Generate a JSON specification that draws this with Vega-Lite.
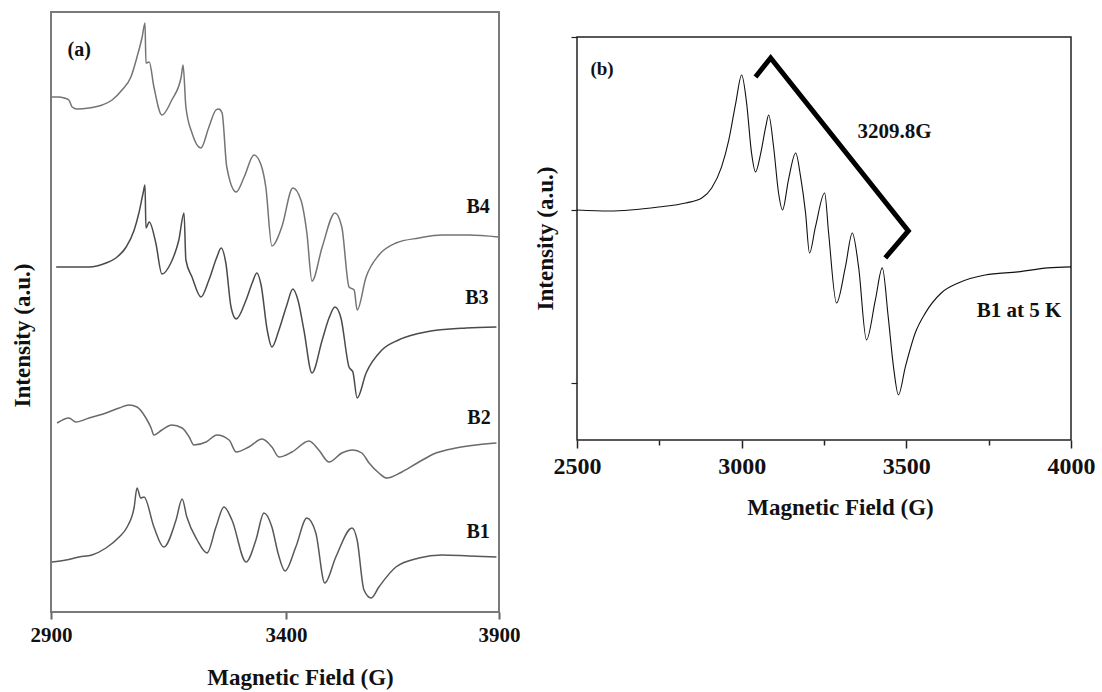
{
  "$schema": "https://vega.github.io/schema/vega-lite/v6.json",
  "background": "white",
  "padding": {"left": 10, "top": 11, "right": 5, "bottom": 0},
  "spacing": 13,
  "config": {
    "font": "Liberation Serif",
    "view": {"stroke": null},
    "axis": {"grid": false, "labelFont": "Liberation Serif", "titleFont": "Liberation Serif", "labelFontWeight": "bold", "titleFontWeight": "bold", "labelColor": "#111", "titleColor": "#111", "labelFlush": false, "labelOverlap": false, "labelBound": false},
    "text": {"font": "Liberation Serif", "fontWeight": "bold", "color": "#111"}
  },
  "datasets": {
    "a": [
      {"sample":"B4","G":2902,"I":515},{"sample":"B4","G":2917,"I":515},{"sample":"B4","G":2928,"I":514},{"sample":"B4","G":2938,"I":512},{"sample":"B4","G":2945,"I":505},{"sample":"B4","G":2955,"I":503},{"sample":"B4","G":2981,"I":504},{"sample":"B4","G":3009,"I":507},{"sample":"B4","G":3030,"I":512},{"sample":"B4","G":3051,"I":522},{"sample":"B4","G":3070,"I":535},{"sample":"B4","G":3083,"I":555},{"sample":"B4","G":3094,"I":575},{"sample":"B4","G":3100,"I":589},{"sample":"B4","G":3102,"I":549},{"sample":"B4","G":3109,"I":550},{"sample":"B4","G":3119,"I":525},{"sample":"B4","G":3136,"I":497},{"sample":"B4","G":3157,"I":512},{"sample":"B4","G":3177,"I":535},{"sample":"B4","G":3181,"I":547},{"sample":"B4","G":3187,"I":505},{"sample":"B4","G":3200,"I":479},{"sample":"B4","G":3219,"I":464},{"sample":"B4","G":3236,"I":485},{"sample":"B4","G":3251,"I":502},{"sample":"B4","G":3257,"I":503},{"sample":"B4","G":3264,"I":499},{"sample":"B4","G":3274,"I":445},{"sample":"B4","G":3294,"I":420},{"sample":"B4","G":3311,"I":435},{"sample":"B4","G":3332,"I":457},{"sample":"B4","G":3347,"I":447},{"sample":"B4","G":3357,"I":425},{"sample":"B4","G":3370,"I":366},{"sample":"B4","G":3391,"I":385},{"sample":"B4","G":3416,"I":424},{"sample":"B4","G":3435,"I":412},{"sample":"B4","G":3449,"I":379},{"sample":"B4","G":3461,"I":331},{"sample":"B4","G":3485,"I":365},{"sample":"B4","G":3515,"I":399},{"sample":"B4","G":3531,"I":385},{"sample":"B4","G":3548,"I":325},{"sample":"B4","G":3560,"I":322},{"sample":"B4","G":3567,"I":302},{"sample":"B4","G":3588,"I":335},{"sample":"B4","G":3618,"I":357},{"sample":"B4","G":3658,"I":369},{"sample":"B4","G":3712,"I":374},{"sample":"B4","G":3766,"I":377},{"sample":"B4","G":3830,"I":377},{"sample":"B4","G":3898,"I":375},
      {"sample":"B3","G":2911,"I":345},{"sample":"B3","G":2945,"I":345},{"sample":"B3","G":2981,"I":345},{"sample":"B3","G":3017,"I":349},{"sample":"B3","G":3038,"I":354},{"sample":"B3","G":3060,"I":365},{"sample":"B3","G":3077,"I":382},{"sample":"B3","G":3087,"I":399},{"sample":"B3","G":3096,"I":419},{"sample":"B3","G":3100,"I":427},{"sample":"B3","G":3102,"I":384},{"sample":"B3","G":3109,"I":390},{"sample":"B3","G":3123,"I":369},{"sample":"B3","G":3136,"I":338},{"sample":"B3","G":3155,"I":349},{"sample":"B3","G":3172,"I":372},{"sample":"B3","G":3183,"I":399},{"sample":"B3","G":3187,"I":352},{"sample":"B3","G":3200,"I":335},{"sample":"B3","G":3219,"I":315},{"sample":"B3","G":3236,"I":332},{"sample":"B3","G":3253,"I":355},{"sample":"B3","G":3262,"I":364},{"sample":"B3","G":3272,"I":349},{"sample":"B3","G":3283,"I":305},{"sample":"B3","G":3294,"I":293},{"sample":"B3","G":3315,"I":312},{"sample":"B3","G":3328,"I":329},{"sample":"B3","G":3338,"I":339},{"sample":"B3","G":3347,"I":327},{"sample":"B3","G":3360,"I":282},{"sample":"B3","G":3370,"I":265},{"sample":"B3","G":3385,"I":282},{"sample":"B3","G":3402,"I":307},{"sample":"B3","G":3416,"I":323},{"sample":"B3","G":3428,"I":312},{"sample":"B3","G":3442,"I":282},{"sample":"B3","G":3461,"I":239},{"sample":"B3","G":3485,"I":272},{"sample":"B3","G":3501,"I":294},{"sample":"B3","G":3515,"I":305},{"sample":"B3","G":3529,"I":294},{"sample":"B3","G":3548,"I":245},{"sample":"B3","G":3557,"I":240},{"sample":"B3","G":3567,"I":214},{"sample":"B3","G":3588,"I":239},{"sample":"B3","G":3625,"I":262},{"sample":"B3","G":3664,"I":272},{"sample":"B3","G":3728,"I":280},{"sample":"B3","G":3823,"I":284},{"sample":"B3","G":3894,"I":285},
      {"sample":"B2","G":2913,"I":189},{"sample":"B2","G":2938,"I":194},{"sample":"B2","G":2953,"I":190},{"sample":"B2","G":2981,"I":194},{"sample":"B2","G":3017,"I":199},{"sample":"B2","G":3045,"I":204},{"sample":"B2","G":3066,"I":207},{"sample":"B2","G":3083,"I":205},{"sample":"B2","G":3102,"I":194},{"sample":"B2","G":3113,"I":184},{"sample":"B2","G":3119,"I":177},{"sample":"B2","G":3136,"I":182},{"sample":"B2","G":3157,"I":187},{"sample":"B2","G":3179,"I":184},{"sample":"B2","G":3194,"I":175},{"sample":"B2","G":3204,"I":167},{"sample":"B2","G":3230,"I":170},{"sample":"B2","G":3253,"I":177},{"sample":"B2","G":3279,"I":172},{"sample":"B2","G":3294,"I":160},{"sample":"B2","G":3321,"I":165},{"sample":"B2","G":3349,"I":173},{"sample":"B2","G":3370,"I":165},{"sample":"B2","G":3385,"I":155},{"sample":"B2","G":3414,"I":160},{"sample":"B2","G":3454,"I":171},{"sample":"B2","G":3477,"I":162},{"sample":"B2","G":3501,"I":150},{"sample":"B2","G":3531,"I":159},{"sample":"B2","G":3557,"I":162},{"sample":"B2","G":3578,"I":159},{"sample":"B2","G":3595,"I":149},{"sample":"B2","G":3618,"I":139},{"sample":"B2","G":3637,"I":134},{"sample":"B2","G":3672,"I":140},{"sample":"B2","G":3712,"I":150},{"sample":"B2","G":3752,"I":159},{"sample":"B2","G":3799,"I":164},{"sample":"B2","G":3846,"I":167},{"sample":"B2","G":3894,"I":169},
      {"sample":"B1","G":2902,"I":50},{"sample":"B1","G":2932,"I":52},{"sample":"B1","G":2960,"I":55},{"sample":"B1","G":2987,"I":57},{"sample":"B1","G":3017,"I":64},{"sample":"B1","G":3045,"I":75},{"sample":"B1","G":3062,"I":85},{"sample":"B1","G":3077,"I":105},{"sample":"B1","G":3083,"I":124},{"sample":"B1","G":3091,"I":114},{"sample":"B1","G":3098,"I":115},{"sample":"B1","G":3119,"I":85},{"sample":"B1","G":3140,"I":65},{"sample":"B1","G":3166,"I":92},{"sample":"B1","G":3179,"I":113},{"sample":"B1","G":3189,"I":95},{"sample":"B1","G":3211,"I":72},{"sample":"B1","G":3232,"I":59},{"sample":"B1","G":3251,"I":85},{"sample":"B1","G":3268,"I":105},{"sample":"B1","G":3285,"I":92},{"sample":"B1","G":3315,"I":50},{"sample":"B1","G":3336,"I":72},{"sample":"B1","G":3353,"I":99},{"sample":"B1","G":3370,"I":85},{"sample":"B1","G":3383,"I":59},{"sample":"B1","G":3398,"I":41},{"sample":"B1","G":3423,"I":65},{"sample":"B1","G":3449,"I":94},{"sample":"B1","G":3470,"I":79},{"sample":"B1","G":3491,"I":29},{"sample":"B1","G":3517,"I":55},{"sample":"B1","G":3555,"I":84},{"sample":"B1","G":3567,"I":72},{"sample":"B1","G":3583,"I":22},{"sample":"B1","G":3600,"I":14},{"sample":"B1","G":3618,"I":25},{"sample":"B1","G":3658,"I":45},{"sample":"B1","G":3712,"I":54},{"sample":"B1","G":3766,"I":57},{"sample":"B1","G":3830,"I":56},{"sample":"B1","G":3894,"I":55}
    ],
    "a_labels": [
      {"label":"(a)","G":2960,"I":562},{"label":"B4","G":3851,"I":405},{"label":"B3","G":3848,"I":314},{"label":"B2","G":3853,"I":194},{"label":"B1","G":3851,"I":80}
    ],
    "b": [
      {"G":2500,"I":0},{"G":2597,"I":-0.006},{"G":2748,"I":0.017},{"G":2830,"I":0.04},{"G":2879,"I":0.069},{"G":2909,"I":0.127},{"G":2939,"I":0.249},{"G":2961,"I":0.405},{"G":2982,"I":0.618},{"G":3000,"I":0.78},{"G":3015,"I":0.618},{"G":3030,"I":0.329},{"G":3042,"I":0.22},{"G":3058,"I":0.329},{"G":3073,"I":0.48},{"G":3082,"I":0.549},{"G":3097,"I":0.364},{"G":3112,"I":0.098},{"G":3124,"I":0.0},{"G":3142,"I":0.173},{"G":3164,"I":0.329},{"G":3179,"I":0.191},{"G":3194,"I":-0.017},{"G":3206,"I":-0.249},{"G":3224,"I":-0.098},{"G":3252,"I":0.098},{"G":3264,"I":-0.133},{"G":3288,"I":-0.538},{"G":3315,"I":-0.329},{"G":3336,"I":-0.133},{"G":3355,"I":-0.329},{"G":3379,"I":-0.751},{"G":3406,"I":-0.52},{"G":3427,"I":-0.335},{"G":3445,"I":-0.618},{"G":3461,"I":-0.907},{"G":3476,"I":-1.069},{"G":3497,"I":-0.907},{"G":3527,"I":-0.711},{"G":3558,"I":-0.595},{"G":3606,"I":-0.48},{"G":3658,"I":-0.422},{"G":3739,"I":-0.376},{"G":3839,"I":-0.358},{"G":3930,"I":-0.335},{"G":4000,"I":-0.329}
    ],
    "bracket": [
      {"k":1,"G":3042,"I":0.769},{"k":2,"G":3088,"I":0.879},{"k":3,"G":3506,"I":-0.121},{"k":4,"G":3436,"I":-0.277}
    ],
    "b_frame": [
      {"k":1,"G":2500,"I":1},{"k":2,"G":4000,"I":1},{"k":3,"G":4000,"I":-1.33},{"k":4,"G":2500,"I":-1.33},{"k":5,"G":2500,"I":1}
    ],
    "b_labels": [
      {"label":"(b)","G":2576,"I":0.815,"size":"s"},{"label":"3209.8G","G":3464,"I":0.451,"size":"m"},{"label":"B1 at 5 K","G":3842,"I":-0.584,"size":"m"}
    ]
  },
  "hconcat": [
    {
      "width": 448,
      "height": 600,
      "view": {"stroke": "#7a7a7a", "strokeWidth": 2},
      "encoding": {
        "x": {"field": "G", "type": "quantitative",
          "scale": {"domain": [2900, 3400, 3900], "range": [0, 235, 448], "nice": false, "zero": false},
          "axis": {"values": [2900, 3400, 3900], "format": "d", "domain": false, "tickSize": 7, "tickWidth": 2, "tickColor": "#666", "labelFontSize": 21, "labelPadding": 5, "title": "Magnetic Field (G)", "titleFontSize": 23, "titlePadding": 21, "titleX": 249}},
        "y": {"field": "I", "type": "quantitative",
          "scale": {"domain": [0, 600], "nice": false, "zero": false},
          "axis": {"labels": false, "ticks": false, "domain": false, "title": "Intensity (a.u.)", "titleFontSize": 23, "titlePadding": 17, "titleY": 323}}
      },
      "layer": [
        {"data": {"name": "a"},
         "mark": {"type": "line", "interpolate": "monotone", "strokeWidth": 1.5},
         "encoding": {"color": {"field": "sample", "type": "nominal", "scale": {"domain": ["B1", "B2", "B3", "B4"], "range": ["#585858", "#6a6a6a", "#4a4a4a", "#747474"]}, "legend": null}}},
        {"data": {"name": "a_labels"},
         "mark": {"type": "text", "fontSize": 20, "align": "center", "baseline": "middle", "fontWeight": "bold", "font": "Liberation Serif", "color": "#111"},
         "encoding": {"text": {"field": "label", "type": "nominal"}}}
      ]
    },
    {
      "width": 494,
      "height": 428,
      "encoding": {
        "x": {"field": "G", "type": "quantitative",
          "scale": {"domain": [2500, 4000], "nice": false, "zero": false},
          "axis": {"values": [2500, 2750, 3000, 3250, 3500, 3750, 4000], "labelExpr": "datum.value % 500 === 0 ? format(datum.value, 'd') : ''", "domain": false, "tickSize": {"condition": {"test": "datum.value % 500 === 0", "value": 8}, "value": 5}, "tickWidth": 1.5, "tickColor": "#222", "labelFontSize": 24, "labelPadding": 6, "title": "Magnetic Field (G)", "titleFontSize": 23, "titlePadding": 18, "titleX": 263}},
        "y": {"field": "I", "type": "quantitative",
          "scale": {"domain": [-1.33, 1.1445], "nice": false, "zero": false},
          "axis": {"values": [-1, 0, 1], "labels": false, "domain": false, "tickSize": 6, "tickWidth": 1.2, "tickColor": "#222", "title": "Intensity (a.u.)", "titleFontSize": 23, "titlePadding": 13, "titleY": 226}}
      },
      "layer": [
        {"data": {"name": "b_frame"},
         "mark": {"type": "line", "strokeWidth": 1.5, "color": "#222", "strokeCap": "square"},
         "encoding": {"order": {"field": "k", "type": "quantitative"}}},
        {"data": {"name": "b"},
         "mark": {"type": "line", "interpolate": "monotone", "strokeWidth": 1.1, "color": "#111"}},
        {"data": {"name": "bracket"},
         "mark": {"type": "line", "strokeWidth": 5, "color": "#000", "strokeJoin": "miter", "strokeCap": "butt"},
         "encoding": {"order": {"field": "k", "type": "quantitative"}}},
        {"data": {"name": "b_labels"},
         "mark": {"type": "text", "align": "center", "baseline": "middle", "fontWeight": "bold", "font": "Liberation Serif", "color": "#111"},
         "encoding": {"text": {"field": "label", "type": "nominal"},
           "size": {"field": "size", "type": "nominal", "scale": {"domain": ["s", "m"], "range": [19, 21]}, "legend": null}}}
      ]
    }
  ]
}
